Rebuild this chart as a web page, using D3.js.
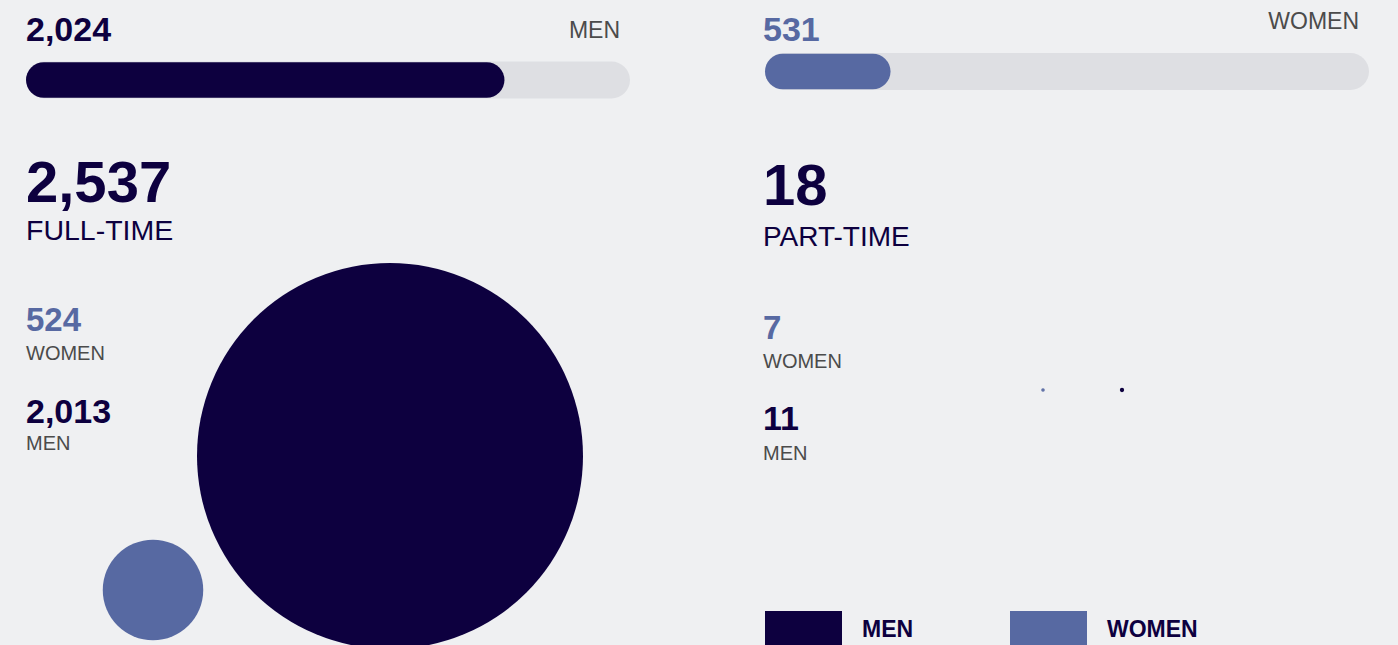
<!DOCTYPE html>
<html>
<head>
<meta charset="utf-8">
<script src="https://cdn.jsdelivr.net/npm/d3@7"></script>
<style>
  html, body { margin: 0; padding: 0; background: #eff0f2; overflow: hidden; }
  svg { display: block; font-family: "Liberation Sans", Arial, Helvetica, sans-serif; }
</style>
</head>
<body>
<svg id="svg" width="1398" height="645"></svg>
<script>
// data
const genders = ['MEN', 'WOMEN']
const genderTotals = [2024, 531]
const groups = ['FULL-TIME', 'PART-TIME']
const groupTotals = [2537, 18]
const womenByGroup = [524, 7]
const menByGroup = [2013, 11]

const navy = '#0d003f'
const blue = '#5769a2'
const grey = '#4b4b4b'
const track = '#dedfe3'
const colors = { MEN: navy, WOMEN: blue }
const fmt = d3.format(',')

const svg = d3.select('#svg')

// top progress bars (share of all staff)
const barLayout = [
  { x: 26, y: 61.5, numX: 26, numY: 41, labelY: 38, labelX: 620 },
  { x: 765, y: 53, numX: 763, numY: 41, labelY: 29, labelX: 1359 }
]
const barW = 604, barH = 37
const total = d3.sum(genderTotals)
const xBar = d3.scaleLinear().domain([0, total]).range([0, barW])

genders.forEach((g, i) => {
  const L = barLayout[i]
  const grp = svg.append('g')
  grp.append('text')
    .attr('x', L.numX).attr('y', L.numY)
    .attr('font-size', 34).attr('font-weight', 'bold')
    .attr('fill', colors[g])
    .text(fmt(genderTotals[i]))
  grp.append('text')
    .attr('x', L.labelX).attr('y', L.labelY)
    .attr('text-anchor', 'end')
    .attr('font-size', 23).attr('fill', grey)
    .text(g)
  grp.append('rect')
    .attr('x', L.x).attr('y', L.y)
    .attr('width', barW).attr('height', barH)
    .attr('rx', barH / 2)
    .attr('fill', track)
  grp.append('rect')
    .attr('x', L.x).attr('y', L.y + 0.75)
    .attr('width', xBar(genderTotals[i])).attr('height', barH - 1.5)
    .attr('rx', (barH - 1.5) / 2)
    .attr('fill', colors[g])
})

// bubbles, radius proportional to value (one scale for both panels)
const r = d3.scaleLinear().domain([0, d3.max(menByGroup)]).range([0, 193])

const panels = [
  { x: 26, bigY: 202, labY: 240, labSize: 28.5, wNumY: 331, wLabY: 360, mNumY: 423, mLabY: 450,
    men: [390, 456], women: [153, 590] },
  { x: 763, bigY: 205, labY: 246, labSize: 28, wNumY: 339, wLabY: 368, mNumY: 430, mLabY: 460,
    men: [1122, 390], women: [1043, 390] }
]

groups.forEach((name, i) => {
  const P = panels[i]
  const grp = svg.append('g')

  const bubbles = [
    { key: 'MEN', v: menByGroup[i], c: P.men },
    { key: 'WOMEN', v: womenByGroup[i], c: P.women }
  ]
  grp.selectAll('circle')
    .data(bubbles)
    .enter()
    .append('circle')
    .attr('cx', d => d.c[0])
    .attr('cy', d => d.c[1])
    .attr('r', d => r(d.v))
    .attr('fill', d => colors[d.key])
    .attr('stroke', d => colors[d.key])
    .attr('stroke-width', i === 0 ? 0 : 2.2)

  grp.append('text')
    .attr('x', P.x).attr('y', P.bigY)
    .attr('font-size', 58).attr('font-weight', 'bold').attr('fill', navy)
    .text(fmt(groupTotals[i]))
  grp.append('text')
    .attr('x', P.x).attr('y', P.labY)
    .attr('font-size', P.labSize).attr('fill', navy)
    .text(name)

  grp.append('text')
    .attr('x', P.x).attr('y', P.wNumY)
    .attr('font-size', 33).attr('font-weight', 'bold').attr('fill', blue)
    .text(fmt(womenByGroup[i]))
  grp.append('text')
    .attr('x', P.x).attr('y', P.wLabY)
    .attr('font-size', 20).attr('fill', grey)
    .text('WOMEN')
  grp.append('text')
    .attr('x', P.x).attr('y', P.mNumY)
    .attr('font-size', 34).attr('font-weight', 'bold').attr('fill', navy)
    .text(fmt(menByGroup[i]))
  grp.append('text')
    .attr('x', P.x).attr('y', P.mLabY)
    .attr('font-size', 20).attr('fill', grey)
    .text('MEN')
})

// legend
const legend = svg.append('g')
  .selectAll('g')
  .data(genders)
  .enter()
  .append('g')
  .attr('transform', (d, i) => `translate(${765 + i * 245}, 611)`)
legend.append('rect')
  .attr('width', 77).attr('height', 40)
  .attr('fill', d => colors[d])
legend.append('text')
  .attr('x', 97).attr('y', 26)
  .attr('font-size', 23).attr('font-weight', 'bold').attr('fill', navy)
  .text(d => d)
</script>
</body>
</html>
